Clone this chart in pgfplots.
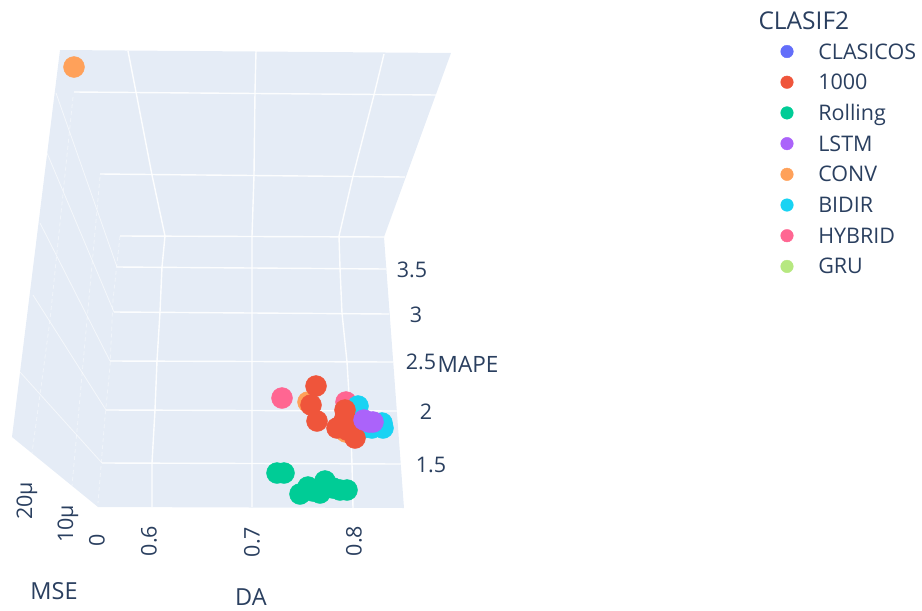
\documentclass[border=0pt]{standalone}
\usepackage{fontspec}
\setmainfont{Open Sans}
\usepackage{pgfplots}
\pgfplotsset{compat=1.18}
\definecolor{wall}{HTML}{E5ECF6}
\definecolor{ink}{HTML}{2A3F5F}
\definecolor{cA}{HTML}{636EFA}
\definecolor{cB}{HTML}{EF553B}
\definecolor{cC}{HTML}{00CC96}
\definecolor{cD}{HTML}{AB63FA}
\definecolor{cE}{HTML}{FFA15A}
\definecolor{cF}{HTML}{19D3F3}
\definecolor{cG}{HTML}{FF6692}
\definecolor{cH}{HTML}{B6E880}
\newcommand{\ft}{\fontsize{21.5}{24}\selectfont}
\newcommand{\fl}{\fontsize{21.5}{24}\selectfont}
\begin{document}
\begin{tikzpicture}
\begin{axis}[
  scale only axis, width=922pt, height=611pt,
  xmin=0, xmax=922, ymin=0, ymax=611, y dir=reverse,
  hide axis, clip=false,
  grid line/.style={white, line width=1.4pt, opacity=0.9, forget plot},
  faint line/.style={white, line width=0.8pt, opacity=0.6, forget plot},
  dash line/.style={white, line width=0.8pt, opacity=0.45, dash pattern=on 4pt off 3pt, forget plot},
  dot/.style={only marks, mark=*, mark size=10.5pt, mark options={draw=#1, fill=#1}, forget plot},
  lg/.style={only marks, mark=*, mark size=6.3pt, mark options={draw=#1, fill=#1}},
  legend cell align=left,
  legend style={draw=none, fill=none, at={(axis cs:780.7,44)}, anchor=north west, inner sep=0pt, outer sep=0pt,
    font=\fl\color{ink}, row sep=15.7pt, nodes={inner sep=0pt, text height=15pt, text depth=0pt},
    /tikz/every odd column/.append style={column sep=25pt}},
]
% legend entries
\addlegendimage{lg=cA}\addlegendentry{CLASICOS}
\addlegendimage{lg=cB}\addlegendentry{1000}
\addlegendimage{lg=cC}\addlegendentry{Rolling}
\addlegendimage{lg=cD}\addlegendentry{LSTM}
\addlegendimage{lg=cE}\addlegendentry{CONV}
\addlegendimage{lg=cF}\addlegendentry{BIDIR}
\addlegendimage{lg=cG}\addlegendentry{HYBRID}
\addlegendimage{lg=cH}\addlegendentry{GRU}
% walls
\addplot[fill=wall, draw=none, forget plot] coordinates {(60,50) (451,53) (384,237) (404,508) (98,507) (12,437)};
% MAPE grid, back wall
\addplot[grid line] coordinates {(74,92) (437,95)};
\addplot[grid line] coordinates {(100,174) (405,177)};
\addplot[grid line] coordinates {(120,236) (384,237)};
\addplot[grid line] coordinates {(117,267) (386,269)};
\addplot[grid line] coordinates {(114,312) (389,314)};
\addplot[grid line] coordinates {(110,361) (393,362)};
\addplot[grid line] coordinates {(106,410) (398,411)};
\addplot[grid line] coordinates {(102,463) (402,464)};
% DA grid
\addplot[grid line] coordinates {(128,51) (136,92) (152,175) (165,236) (162,267) (160,312) (157,361) (155,410) (152,463) (152,507)};
\addplot[grid line] coordinates {(256,51) (255,92) (254,175) (252,236) (252,267) (252,312) (252,361) (252,410) (252,463) (252,507)};
\addplot[grid line] coordinates {(384,54) (374,95) (353,176) (339,236) (340,268) (342,313) (347,362) (350,411) (352,464) (353,508)};
% MAPE grid, side wall
\addplot[faint line] coordinates {(56,93) (117,267)};
\addplot[faint line] coordinates {(47,153) (114,312)};
\addplot[faint line] coordinates {(40,223) (110,361)};
\addplot[faint line] coordinates {(33,295) (106,410)};
\addplot[faint line] coordinates {(20,372) (102,463)};
% MSE grid, side wall
\addplot[dash line] coordinates {(73,97) (50,320) (42,380) (32,453)};
\addplot[dash line] coordinates {(100,177) (82,375) (72,486)};
\addplot[dash line] coordinates {(120,236) (113,300) (110,367) (105,417) (98,503)};
% points, far to near
\addplot[dot=cG] coordinates {(282,398) (346,402)};
\addplot[dot=cE] coordinates {(308,402) (346,432) (74,67)};
\addplot[dot=cF] coordinates {(358,406) (363,428) (372,428) (382,423) (383,428)};
\addplot[dot=cB] coordinates {(316,386) (311,405) (317,421) (345,410) (345,418) (343,423) (337,428) (347,430) (355,438)};
\addplot[dot=cD] coordinates {(364,420) (369,422) (373,422)};
\addplot[dot=cC] coordinates {(277,473) (284,473) (300,494) (308,487) (313,491) (320,493) (325,481) (323,488) (333,488) (340,490) (347,490)};
% axis text
\node[font=\ft\color{ink}] at (axis cs:412,270) {3.5};
\node[font=\ft\color{ink}] at (axis cs:416,315) {3};
\node[font=\ft\color{ink}] at (axis cs:421,362) {2.5};
\node[font=\ft\color{ink}] at (axis cs:426,412) {2};
\node[font=\ft\color{ink}] at (axis cs:431,465) {1.5};
\node[font=\ft\color{ink}, rotate=90] at (axis cs:149,541) {0.6};
\node[font=\ft\color{ink}, rotate=90] at (axis cs:252,542) {0.7};
\node[font=\ft\color{ink}, rotate=90] at (axis cs:354,541) {0.8};
\node[font=\ft\color{ink}, rotate=90] at (axis cs:27,501) {20µ};
\node[font=\ft\color{ink}, rotate=90] at (axis cs:68,524) {10µ};
\node[font=\ft\color{ink}, rotate=90] at (axis cs:97,540) {0};
\node[font=\fontsize{22.5}{24}\selectfont\color{ink}] at (axis cs:468,364) {MAPE};
\node[font=\fontsize{23.5}{26}\selectfont\color{ink}] at (axis cs:54,591) {MSE};
\node[font=\fontsize{23.5}{26}\selectfont\color{ink}] at (axis cs:251,597) {DA};
\node[font=\fontsize{24.5}{26}\selectfont\color{ink}, anchor=west] at (axis cs:755,21) {CLASIF2};
\end{axis}
\path (0,0) rectangle (922pt,611pt);
\end{tikzpicture}
\end{document}
